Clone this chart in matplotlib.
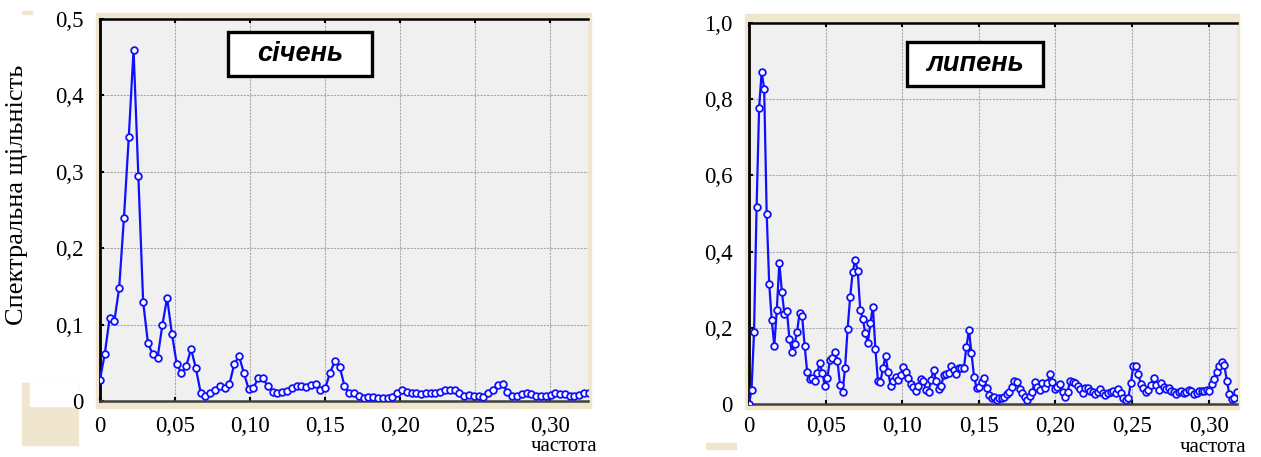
import matplotlib.pyplot as plt
import numpy as np
from matplotlib.patches import Rectangle

# spectral density, January (left) and July (right)
jan_density = [
    0.028, 0.062, 0.108, 0.105, 0.148, 0.24, 0.345, 0.46, 0.295, 0.130,
    0.076, 0.061, 0.056, 0.099, 0.135, 0.088, 0.049, 0.036, 0.046, 0.068,
    0.043, 0.011, 0.0065, 0.010, 0.014, 0.020, 0.017, 0.022, 0.048, 0.059,
    0.037, 0.016, 0.017, 0.030, 0.030, 0.019, 0.012, 0.010, 0.012, 0.013,
    0.017, 0.020, 0.020, 0.018, 0.021, 0.022, 0.014, 0.017, 0.037, 0.052,
    0.045, 0.020, 0.010, 0.010, 0.007, 0.004, 0.005, 0.005, 0.004, 0.004,
    0.004, 0.005, 0.010, 0.015, 0.012, 0.011, 0.011, 0.009, 0.010, 0.011,
    0.010, 0.012, 0.014, 0.014, 0.015, 0.010, 0.007, 0.008, 0.007, 0.007,
    0.005, 0.010, 0.015, 0.021, 0.022, 0.012, 0.007, 0.007, 0.009, 0.010,
    0.009, 0.007, 0.006, 0.006, 0.008, 0.010, 0.009, 0.009, 0.007, 0.007,
    0.008, 0.010, 0.010,
]
jul_density = [
    0.0, 0.037, 0.19, 0.516, 0.778, 0.872, 0.827, 0.498, 0.315, 0.220,
    0.153, 0.247, 0.371, 0.295, 0.236, 0.245, 0.170, 0.137, 0.157, 0.188,
    0.240, 0.232, 0.153, 0.085, 0.065, 0.067, 0.060, 0.082, 0.108, 0.081,
    0.048, 0.069, 0.115, 0.120, 0.136, 0.113, 0.050, 0.032, 0.095, 0.197,
    0.280, 0.346, 0.378, 0.349, 0.247, 0.223, 0.186, 0.161, 0.212, 0.255,
    0.144, 0.060, 0.059, 0.095, 0.127, 0.085, 0.048, 0.061, 0.072, 0.063,
    0.076, 0.098, 0.085, 0.067, 0.052, 0.045, 0.034, 0.047, 0.065, 0.061,
    0.037, 0.032, 0.063, 0.089, 0.061, 0.039, 0.047, 0.076, 0.078, 0.081,
    0.100, 0.089, 0.079, 0.095, 0.095, 0.095, 0.150, 0.194, 0.133, 0.072,
    0.043, 0.045, 0.059, 0.067, 0.041, 0.024, 0.015, 0.018, 0.010, 0.015,
    0.015, 0.019, 0.025, 0.032, 0.045, 0.061, 0.057, 0.039, 0.028, 0.018,
    0.010, 0.021, 0.032, 0.059, 0.045, 0.037, 0.054, 0.041, 0.054, 0.078,
    0.059, 0.039, 0.045, 0.052, 0.032, 0.019, 0.032, 0.061, 0.057, 0.056,
    0.047, 0.039, 0.030, 0.041, 0.043, 0.034, 0.031, 0.026, 0.032, 0.039,
    0.028, 0.024, 0.030, 0.032, 0.035, 0.028, 0.039, 0.028, 0.015, 0.010,
    0.015, 0.054, 0.100, 0.101, 0.078, 0.052, 0.041, 0.031, 0.037, 0.050,
    0.067, 0.050, 0.037, 0.054, 0.045, 0.039, 0.041, 0.035, 0.031, 0.026,
    0.031, 0.034, 0.030, 0.032, 0.037, 0.035, 0.026, 0.030, 0.035, 0.035,
    0.035, 0.037, 0.035, 0.052, 0.065, 0.083, 0.101, 0.111, 0.102, 0.061,
    0.026, 0.012, 0.015, 0.032,
]
# frequency grids (cycles per step)
jan_freq = np.arange(len(jan_density)) / 313
jul_freq = np.arange(len(jul_density)) / 606

x_ticks = [0, 0.05, 0.10, 0.15, 0.20, 0.25, 0.30]
x_labels = ["0", "0,05", "0,10", "0,15", "0,20", "0,25", "0,30"]
jan_yticks = [0, 0.1, 0.2, 0.3, 0.4, 0.5]
jan_ylabels = ["0", "0,1", "0,2", "0,3", "0,4", "0,5"]
jul_yticks = [0, 0.2, 0.4, 0.6, 0.8, 1.0]
jul_ylabels = ["0", "0,2", "0,4", "0,6", "0,8", "1,0"]

W, H = 1261, 457
BEIGE = "#f0e6cf"
serif = "Liberation Serif"

fig = plt.figure(figsize=(W / 100, H / 100), dpi=100)


def px_rect(x0, y0, x1, y1, color):
    # rectangle given in image pixels (top-left origin), kept behind the axes
    fig.patches.append(Rectangle((x0 / W, 1 - y1 / H), (x1 - x0) / W, (y1 - y0) / H,
                                 transform=fig.transFigure, color=color, zorder=-5))


# beige frames behind the plot areas and small decorations
px_rect(96, 13, 591, 408, BEIGE)
px_rect(745, 14, 1239, 409, BEIGE)
px_rect(22, 383, 78, 445, BEIGE)
px_rect(30, 383, 78, 406, "white")
px_rect(22, 11, 32, 14, BEIGE)
px_rect(706, 443, 736, 449, BEIGE)


def make_panel(rect, freq, dens, xmax, ymax, yticks, ylabels, title, box, xname_y, xpad):
    ax = fig.add_axes(rect)
    ax.set_facecolor("#f0f0f0")
    ax.plot(freq, dens, color="#1010ff", lw=1.6, marker="o", ms=4.8,
            mfc="white", mec="#1010ff", mew=1.3, zorder=3)
    ax.set_xlim(0, xmax)
    ax.set_ylim(0, ymax)
    ax.set_xticks(x_ticks)
    ax.set_xticklabels(x_labels, fontfamily=serif, fontsize=16.5)
    ax.set_yticks(yticks)
    ax.set_yticklabels(ylabels, fontfamily=serif, fontsize=16.5)
    ax.grid(True, color="#a8a8a8", lw=0.8, ls=(0, (2, 1)))
    ax.tick_params(axis="x", direction="in", length=3, width=1.5, pad=xpad,
                   top=True, colors="black")
    ax.tick_params(axis="y", direction="in", length=3, width=1.5, pad=12,
                   colors="black")
    ax.spines["right"].set_visible(False)
    ax.spines["left"].set_linewidth(2)
    ax.spines["top"].set_linewidth(1.8)
    ax.spines["bottom"].set_linewidth(1.8)
    ax.spines["bottom"].set_color("#404040")
    # month label in a framed white box (axes fractions)
    x0, y0, x1, y1 = box
    ax.add_patch(Rectangle((x0, y0), x1 - x0, y1 - y0, transform=ax.transAxes,
                           fc="white", ec="black", lw=2.4, zorder=5))
    ax.text((x0 + x1) / 2, (y0 + y1) / 2, title, transform=ax.transAxes,
            ha="center", va="center", fontfamily="Liberation Sans",
            fontweight="bold", fontstyle="italic", fontsize=19.5, zorder=6)
    ax.text(1.02, xname_y, "частота", transform=ax.transAxes, ha="right", va="bottom",
            fontfamily=serif, fontsize=15)
    return ax


ax1 = make_panel([100 / W, 1 - 401 / H, 488 / W, 382 / H], jan_freq, jan_density,
                 0.3253, 0.5, jan_yticks, jan_ylabels, "січень",
                 (0.262, 0.851, 0.557, 0.966), -0.144, 11)
ax1.set_ylabel("Спектральна щільність", fontfamily=serif, fontsize=19)
ax1.yaxis.set_label_coords(-0.148, 0.539)

ax2 = make_panel([749 / W, 1 - 404 / H, 488 / W, 381 / H], jul_freq, jul_density,
                 0.3185, 1.0, jul_yticks, jul_ylabels, "липень",
                 (0.324, 0.835, 0.602, 0.950), -0.1385, 8.5)

fig.savefig("out.png", dpi=100)
